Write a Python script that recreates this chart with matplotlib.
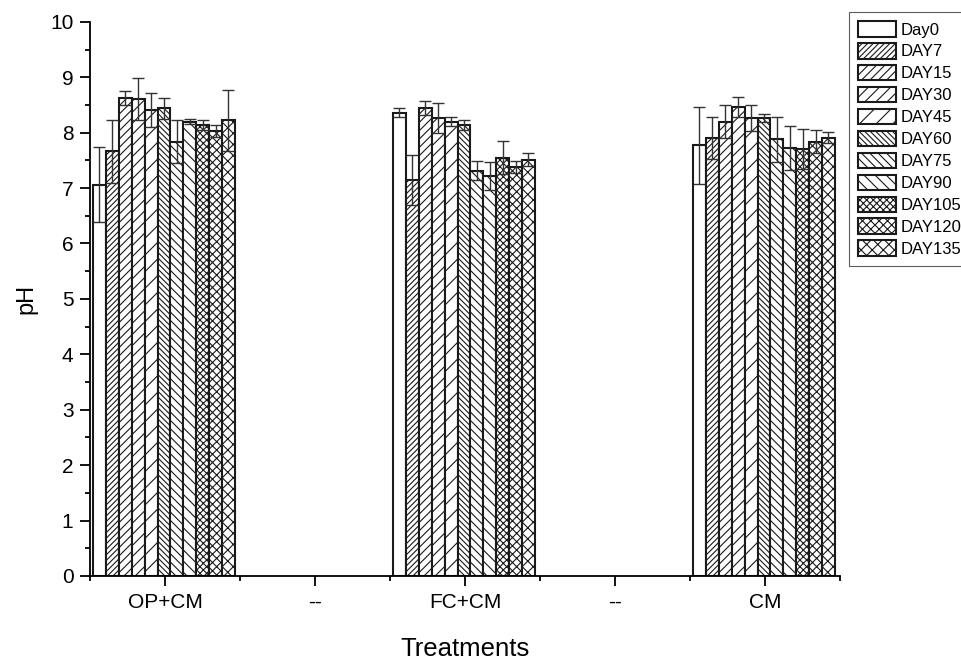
import matplotlib
matplotlib.use('Agg')
import matplotlib.pyplot as plt
from matplotlib.ticker import MultipleLocator, FixedLocator

plt.rcParams['font.family'] = ['Liberation Sans', 'DejaVu Sans']
plt.rcParams['hatch.linewidth'] = 0.8

# treatments on the x axis ('--' are empty spacer slots)
treatments = ['OP+CM', '--', 'FC+CM', '--', 'CM']
days = ['Day0', 'DAY7', 'DAY15', 'DAY30', 'DAY45', 'DAY60',
        'DAY75', 'DAY90', 'DAY105', 'DAY120', 'DAY135']
hatches = ['', '//////', '////', '///', '//', '\\\\\\\\\\\\',
           '\\\\\\\\', '\\\\\\', 'xxxxx', 'xxxx', 'xxx']

# pH means per day, one list per treatment that has bars
op_cm = [7.06, 7.66, 8.62, 8.60, 8.41, 8.44, 7.84, 8.20, 8.14, 8.03, 8.22]
op_cm_err = [0.68, 0.56, 0.13, 0.38, 0.30, 0.19, 0.39, 0.05, 0.09, 0.11, 0.55]
fc_cm = [8.36, 7.15, 8.44, 8.26, 8.20, 8.14, 7.31, 7.22, 7.55, 7.38, 7.51]
fc_cm_err = [0.08, 0.45, 0.13, 0.27, 0.08, 0.09, 0.17, 0.25, 0.30, 0.10, 0.12]
cm = [7.77, 7.90, 8.20, 8.46, 8.26, 8.27, 7.88, 7.72, 7.71, 7.84, 7.91]
cm_err = [0.70, 0.38, 0.29, 0.18, 0.23, 0.07, 0.41, 0.40, 0.36, 0.21, 0.10]

groups = [(0, op_cm, op_cm_err), (2, fc_cm, fc_cm_err), (4, cm, cm_err)]

fig = plt.figure(figsize=(9.62, 6.61), dpi=100)
ax = fig.add_axes([0.0936, 0.1286, 0.7796, 0.8384])

w = 0.086
for i, day in enumerate(days):
    xs = [g[0] - 0.48 + i * w for g in groups]
    ys = [g[1][i] for g in groups]
    es = [g[2][i] for g in groups]
    ax.bar(xs, ys, width=w, align='edge', color='white', edgecolor='#1a1a1a',
           linewidth=1.5, hatch=hatches[i], label=day, zorder=2)
    ax.errorbar([x + w / 2 for x in xs], ys, yerr=es, fmt='none',
                ecolor='#333333', elinewidth=1, capsize=4, capthick=1, zorder=3)

ax.set_xlim(-0.5, 4.5)
ax.set_ylim(0, 10)
ax.set_xticks(range(len(treatments)))
ax.set_xticklabels(treatments)
ax.xaxis.set_minor_locator(FixedLocator([k - 0.5 for k in range(6)]))
ax.yaxis.set_major_locator(MultipleLocator(1))
ax.yaxis.set_minor_locator(MultipleLocator(0.5))

ax.spines['top'].set_visible(False)
ax.spines['right'].set_visible(False)
ax.spines['left'].set_linewidth(1.3)
ax.spines['bottom'].set_linewidth(1.3)
ax.tick_params(which='major', direction='out', length=7, width=1.3, labelsize=15)
ax.tick_params(which='minor', direction='out', length=3.6, width=1.3)
ax.tick_params(axis='x', which='major', pad=5)
ax.tick_params(axis='y', which='major', pad=5)

ax.set_xlabel('Treatments', fontsize=18.5, labelpad=18)
ax.set_ylabel('pH', fontsize=17, labelpad=9)

leg = fig.legend(loc='upper left', bbox_to_anchor=(849 / 962, 1 - 12 / 661),
                 bbox_transform=fig.transFigure, fontsize=12, frameon=True,
                 fancybox=False, borderaxespad=0, borderpad=0.55,
                 labelspacing=0.33, handlelength=2.25, handleheight=1.05,
                 handletextpad=0.3)
leg.get_frame().set_edgecolor('#333333')
leg.get_frame().set_linewidth(0.8)

fig.savefig('out.png', dpi=100)
